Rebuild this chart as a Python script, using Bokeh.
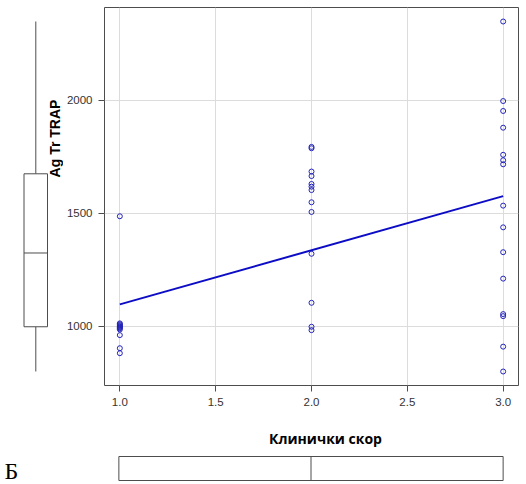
import math
import numpy as np
from bokeh.plotting import figure
from bokeh.layouts import column, row
from bokeh.models import Range1d, Label, FixedTicker
from bokeh.embed import file_html
from bokeh.resources import INLINE

# ---------------- data ----------------
scores = [1, 2, 3]
trap_score1 = [1486, 1012, 1008, 1004, 1000, 997, 994, 990, 985, 960, 902, 880]
trap_score2 = [1793, 1787, 1684, 1664, 1629, 1617, 1602, 1548, 1505, 1320, 1103, 997, 982]
trap_score3 = [2348, 1996, 1952, 1878, 1758, 1734, 1716, 1533, 1437, 1327, 1210, 1053,
               1044, 909, 799]
x_ticks = [1.0, 1.5, 2.0, 2.5, 3.0]
x_tick_labels = ["1.0", "1.5", "2.0", "2.5", "3.0"]
y_ticks = [1000, 1500, 2000]
y_tick_labels = ["1000", "1500", "2000"]
x_title = "Клинички скор"
y_title = "Ag Tr TRAP"
panel_letter = "Б"

# ---------------- derived ----------------
xs, ys = [], []
for s, vals in zip(scores, [trap_score1, trap_score2, trap_score3]):
    xs += [s] * len(vals)
    ys += vals
xs = np.array(xs, dtype=float)
ys = np.array(ys, dtype=float)


def fivenum(v):
    v = np.sort(np.asarray(v, dtype=float))
    n = len(v)
    n4 = math.floor((n + 3) / 2) / 2
    d = [1, n4, (n + 1) / 2, n + 1 - n4, n]
    return [0.5 * (v[math.floor(di - 1)] + v[math.ceil(di - 1)]) for di in d]


def box_stats(v):
    v = np.asarray(v, dtype=float)
    _, lo, med, hi, _ = fivenum(v)
    iqr = hi - lo
    wlo = v[v >= lo - 1.5 * iqr].min()
    whi = v[v <= hi + 1.5 * iqr].max()
    return wlo, lo, med, hi, whi


pad = 0.04
x_lo = xs.min() - pad * (xs.max() - xs.min())
x_hi = xs.max() + pad * (xs.max() - xs.min())
y_lo = ys.min() - pad * (ys.max() - ys.min())
y_hi = ys.max() + pad * (ys.max() - ys.min())

slope, intercept = np.polyfit(xs, ys, 1)
fit_x = [xs.min(), xs.max()]
fit_y = [intercept + slope * v for v in fit_x]

# ---------------- geometry (pixels) ----------------
W, H = 526, 484
LEFT_W = 63            # left strip: y boxplot + y title
FR_L, FR_R, FR_T, FR_B = 103, 518, 7, 385
TOP_H = 420            # height of the upper row
BOT_H = H - TOP_H      # lower row: x title + x boxplot + panel letter

fw = FR_R - FR_L
fh = FR_B - FR_T


def px_x(px):
    return x_lo + (px - FR_L) * (x_hi - x_lo) / fw


def px_y(py):
    return y_hi - (py - FR_T) * (y_hi - y_lo) / fh


AX_COL = "#4d4d4d"
TXT_COL = "#333333"
PT_COL = "#2424b8"
LN_COL = "#0c0cc4"


def bare(fig):
    fig.outline_line_color = None
    fig.grid.visible = False
    fig.background_fill_color = "white"
    fig.border_fill_color = "white"


# ---------------- main scatter ----------------
p = figure(width=W - LEFT_W, height=TOP_H,
           x_range=Range1d(x_lo, x_hi), y_range=Range1d(y_lo, y_hi),
           output_backend="svg", toolbar_location=None,
           min_border_left=FR_L - LEFT_W, min_border_right=W - FR_R,
           min_border_top=FR_T, min_border_bottom=TOP_H - FR_B)
p.background_fill_color = "white"
p.border_fill_color = "white"
p.outline_line_color = AX_COL
p.outline_line_width = 1

p.xaxis.ticker = FixedTicker(ticks=x_ticks)
p.yaxis.ticker = FixedTicker(ticks=y_ticks)
p.xaxis.major_label_overrides = {t: l for t, l in zip(x_ticks, x_tick_labels)}
p.yaxis.major_label_overrides = {t: l for t, l in zip(y_ticks, y_tick_labels)}
p.axis.axis_line_color = None
p.axis.major_tick_line_color = AX_COL
p.axis.major_tick_out = 6
p.axis.major_tick_in = 0
p.axis.minor_tick_line_color = None
p.axis.major_label_standoff = 6
p.axis.major_label_text_font = "Liberation Sans"
p.axis.major_label_text_font_size = "11.5px"
p.axis.major_label_text_color = TXT_COL
p.grid.grid_line_color = "#dcdcdc"
p.grid.grid_line_width = 1

p.line(fit_x, fit_y, line_color=LN_COL, line_width=2)
p.scatter(xs, ys, marker="circle", size=5, fill_color=None,
          line_color=PT_COL, line_width=1)

# ---------------- left strip: marginal boxplot (y) + y title ----------------
yb = box_stats(ys)
lb = figure(width=LEFT_W, height=TOP_H, x_range=Range1d(0, LEFT_W), y_range=p.y_range,
            output_backend="svg", toolbar_location=None,
            x_axis_location=None, y_axis_location=None,
            min_border_left=0, min_border_right=0,
            min_border_top=FR_T, min_border_bottom=TOP_H - FR_B)
bare(lb)
bx_l, bx_r, bx_c = 23.5, 47, 35.3
lb.segment(x0=[bx_c, bx_c], y0=[yb[0], yb[3]], x1=[bx_c, bx_c], y1=[yb[1], yb[4]],
           line_color=AX_COL, line_width=1)
lb.quad(left=[bx_l], right=[bx_r], bottom=[yb[1]], top=[yb[3]],
        fill_color="white", line_color=AX_COL, line_width=1)
lb.segment(x0=[bx_l], y0=[yb[2]], x1=[bx_r], y1=[yb[2]], line_color=AX_COL, line_width=1)
lb.add_layout(Label(x=54.5, y=px_y(138), text=y_title, angle=math.pi / 2,
                    text_align="center", text_baseline="middle",
                    text_font="Liberation Sans", text_font_style="bold",
                    text_font_size="14px", text_color="black"))

# ---------------- lower row: panel letter + x title + marginal boxplot (x) ----------------
lf = figure(width=FR_L, height=BOT_H, x_range=Range1d(0, FR_L), y_range=Range1d(0, BOT_H),
            output_backend="svg", toolbar_location=None,
            x_axis_location=None, y_axis_location=None,
            min_border_left=0, min_border_right=0, min_border_top=0, min_border_bottom=0)
bare(lf)
lf.add_layout(Label(x=4, y=H - 470.5, text=panel_letter,
                    text_align="left", text_baseline="middle",
                    text_font="Liberation Serif", text_font_size="24px",
                    text_color="black"))

xb = box_stats(xs)
bb = figure(width=W - FR_L, height=BOT_H, x_range=p.x_range, y_range=Range1d(0, BOT_H),
            output_backend="svg", toolbar_location=None,
            x_axis_location=None, y_axis_location=None,
            min_border_left=0, min_border_right=W - FR_R,
            min_border_top=0, min_border_bottom=0)
bare(bb)
by_b, by_t = H - 480, H - 456
by_c = (by_b + by_t) / 2
bb.segment(x0=[xb[0], xb[3]], y0=[by_c, by_c], x1=[xb[1], xb[4]], y1=[by_c, by_c],
           line_color=AX_COL, line_width=1)
bb.quad(left=[xb[1]], right=[xb[3]], bottom=[by_b], top=[by_t],
        fill_color="white", line_color=AX_COL, line_width=1)
bb.segment(x0=[xb[2]], y0=[by_b], x1=[xb[2]], y1=[by_t], line_color=AX_COL, line_width=1)
bb.add_layout(Label(x=px_x(325), y=H - 438, text=x_title,
                    text_align="center", text_baseline="middle",
                    text_font="Open Sans", text_font_style="bold",
                    text_font_size="14px", text_color="black"))

layout = column(row(lb, p), row(lf, bb))
open("out.html", "w").write(file_html(layout, INLINE))
